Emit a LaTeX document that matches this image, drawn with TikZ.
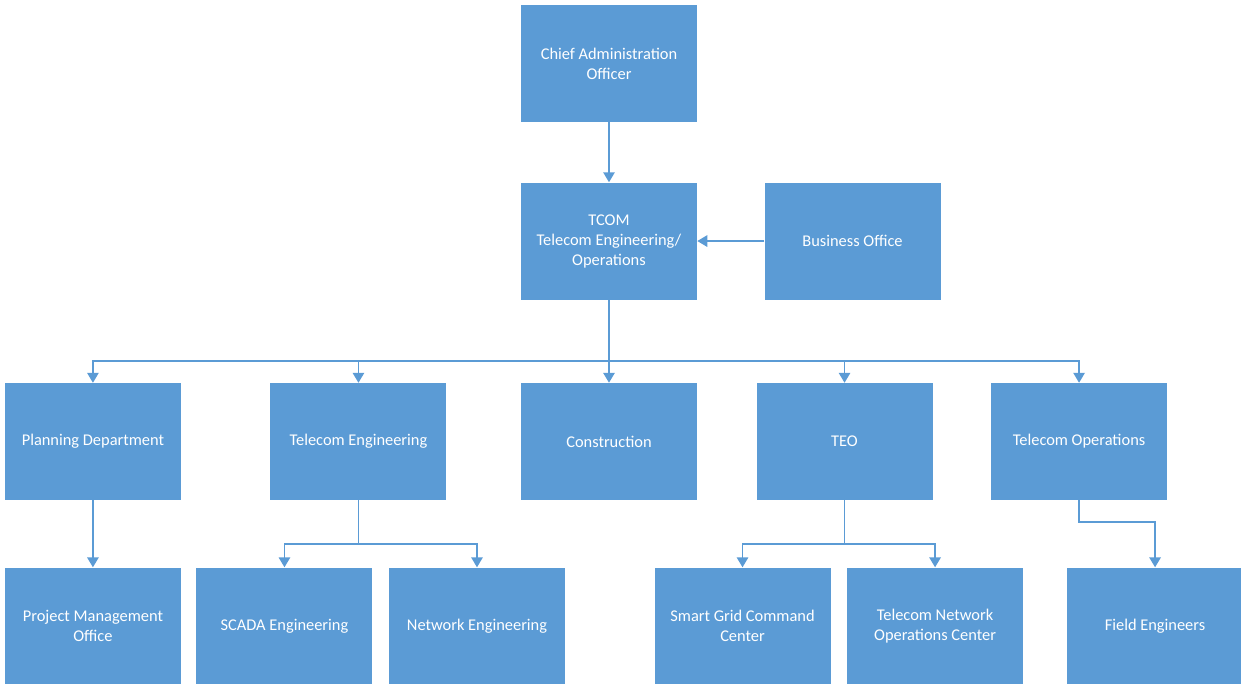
\documentclass[tikz,border=0pt]{standalone}
\usepackage{fontspec}
\setmainfont{Carlito}
\usetikzlibrary{
  arrows.meta,
  positioning
}
\definecolor{boxblue}{HTML}{5B9BD5}
\tikzset{
  unit/.style={
    fill=boxblue,
    draw=none,
    text=white,
    minimum width=132pt,
    minimum height=87.75pt,
    inner sep=2pt,
    align=center,
    font=\fontsize{12.3}{15}\selectfont
  },
  arrow/.style={-{Triangle[length=7.5pt, width=8.5pt]}, line width=1.4pt, draw=boxblue}
}

\begin{document}
\begin{tikzpicture}[node distance=45pt and 50pt]
  \useasboundingbox (-456.75pt,47.625pt) rectangle (474pt,-464.625pt);

  \node[unit] (cao) at (0,0) {Chief Administration\\Officer};
  \node[unit, below=45pt of cao] (tcom) {TCOM\\Telecom Engineering/\\Operations};
  \node[unit, right=50.25pt of tcom] (business) {Business Office};

  \node[unit, below=62.25pt of tcom] (construction) {Construction};
  \node[unit, left=55.5pt of construction] (teleng) {Telecom Engineering};
  \node[unit, left=66.75pt of teleng] (planning) {Planning Department};
  \node[unit, right=44.25pt of construction] (teo) {TEO};
  \node[unit, right=43.5pt of teo] (telops) {Telecom Operations};

  \node[unit, below=50.25pt of planning] (pmo) {Project Management\\Office};
  \node[unit, below=50.25pt of teleng, xshift=-55.5pt] (scada) {SCADA Engineering};
  \node[unit, right=12pt of scada] (neteng) {Network Engineering};
  \node[unit, below=50.25pt of teo, xshift=-76.5pt] (smartgrid) {Smart Grid Command\\Center};
  \node[unit, right=12pt of smartgrid] (tnoc) {Telecom Network\\Operations Center};
  \node[unit, below=50.25pt of telops, xshift=57pt] (field) {Field Engineers};

  \draw[arrow] (cao) -- (tcom);
  \draw[arrow] (business) -- (tcom);

  \coordinate[below=45.75pt of tcom.south] (bus);
  \draw[arrow] (tcom.south) -- (bus) -| (planning);
  \draw[arrow] (bus) -| (teleng);
  \draw[arrow] (bus) -- (construction);
  \draw[arrow] (bus) -| (teo);
  \draw[arrow] (bus) -| (telops);

  \draw[arrow] (planning) -- (pmo);

  \coordinate[below=33pt of teleng.south] (engbus);
  \draw[arrow] (teleng.south) -- (engbus) -| (scada);
  \draw[arrow] (engbus) -| (neteng);

  \coordinate[below=33pt of teo.south] (teobus);
  \draw[arrow] (teo.south) -- (teobus) -| (smartgrid);
  \draw[arrow] (teobus) -| (tnoc);

  \coordinate[below=16.5pt of telops.south] (opsbend);
  \draw[arrow] (telops.south) -- (opsbend) -| (field);
\end{tikzpicture}
\end{document}
